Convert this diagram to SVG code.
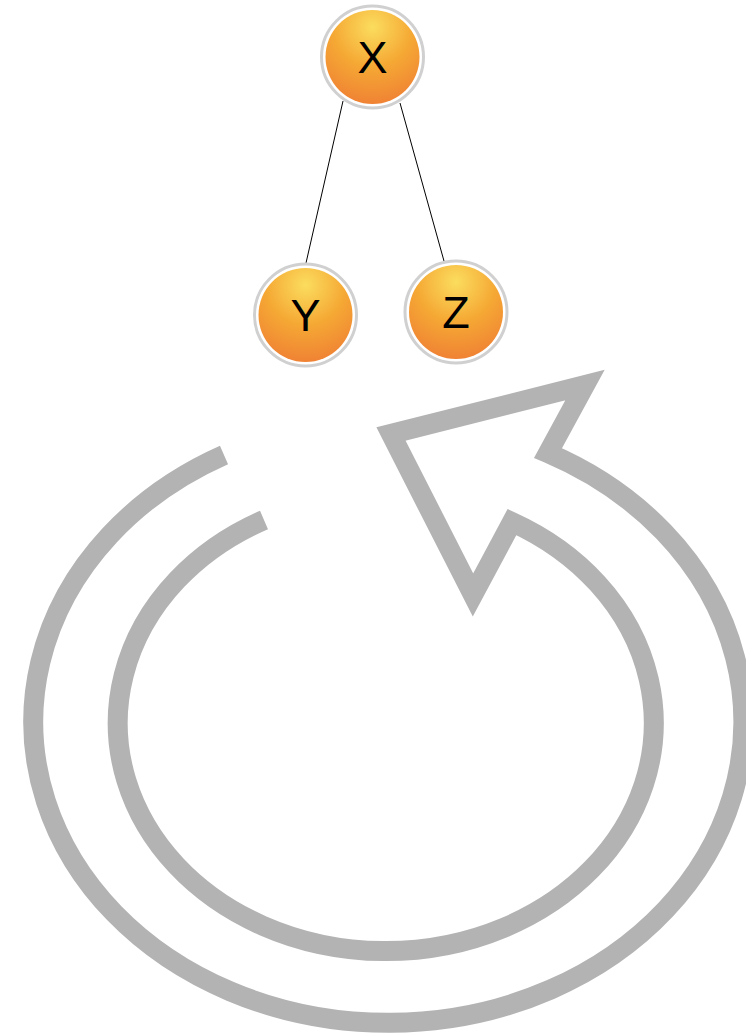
<svg xmlns="http://www.w3.org/2000/svg" width="746" height="1036" viewBox="0 0 746 1036">
<defs>
<radialGradient id="orb" cx="0.5" cy="0.18" r="0.95" fx="0.5" fy="0.18">
<stop offset="0" stop-color="#fbdd5e"/>
<stop offset="0.45" stop-color="#f5a834"/>
<stop offset="1" stop-color="#ee7634"/>
</radialGradient>
<style>
.ring{fill:#ffffff;stroke:#d0d0d0;stroke-width:3}
.ball{fill:url(#orb)}
.lbl{font-family:"Liberation Sans",Arial,sans-serif;font-size:45px;fill:#000;text-anchor:middle}
.edge{stroke:#000;stroke-width:1;fill:none}
.cyc{fill:none;stroke:#b3b3b3;stroke-width:20;stroke-linejoin:miter;stroke-miterlimit:10}
</style>
</defs>
<path class="cyc" d="M224,455 A355,301 0 1 0 548,453 L585,385 L391,434 L473,595 L512,522 A268,228 0 1 1 264,520"/>
<g id="connectors">
<line class="edge" x1="343" y1="101" x2="306" y2="263"/>
<line class="edge" x1="400" y1="103" x2="444" y2="261"/>
</g>
<g id="node-X">
<circle class="ring" cx="372.5" cy="57" r="51"/>
<circle class="ball" cx="372.5" cy="57" r="47"/>
<text class="lbl" x="372.5" y="73">X</text>
</g>
<g id="node-Y">
<circle class="ring" cx="305.5" cy="315" r="51"/>
<circle class="ball" cx="305.5" cy="315" r="47"/>
<text class="lbl" x="305.5" y="331">Y</text>
</g>
<g id="node-Z">
<circle class="ring" cx="456" cy="312" r="51"/>
<circle class="ball" cx="456" cy="312" r="47"/>
<text class="lbl" x="456" y="328">Z</text>
</g>
</svg>
